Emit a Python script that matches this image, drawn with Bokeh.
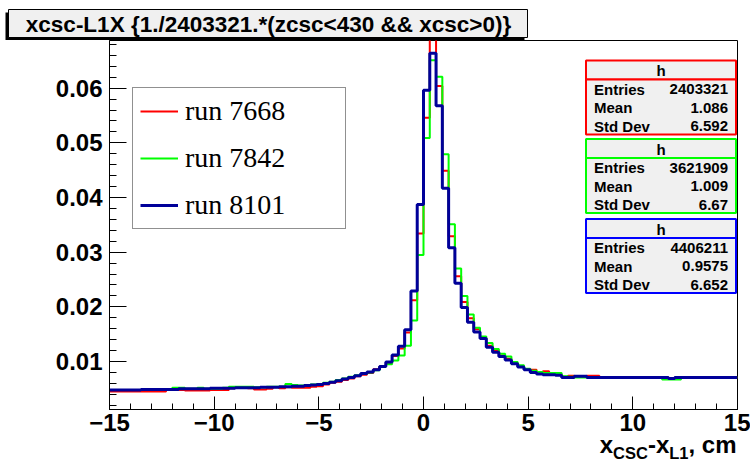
import numpy as np
from bokeh.plotting import figure
from bokeh.layouts import column
from bokeh.models import Range1d, FixedTicker, BoxAnnotation, Label, Legend, LegendItem
from bokeh.core.properties import value
from bokeh.embed import file_html
from bokeh.resources import INLINE

# ---------------- data ----------------
BIN_LOW, BIN_HIGH, N_BINS = -15.0, 15.0, 100

run_labels = ["run 7668", "run 7842", "run 8101"]

run7668 = [
    0.0045, 0.0045, 0.0045, 0.0045, 0.0045, 0.0045, 0.0045, 0.0045, 0.0045, 0.0048,
    0.0049, 0.0048, 0.0047, 0.0047, 0.0047, 0.0047, 0.0048, 0.0048, 0.0048, 0.0051,
    0.0052, 0.0052, 0.0051, 0.0049, 0.0049, 0.0050, 0.0053, 0.0051, 0.0053, 0.0052,
    0.0052, 0.0052, 0.0054, 0.0055, 0.0058, 0.0061, 0.0063, 0.0066, 0.0069, 0.0073,
    0.0076, 0.0079, 0.0086, 0.0091, 0.0097, 0.0110, 0.0124, 0.0153, 0.0212, 0.0334,
    0.0546, 0.0690, 0.0604, 0.0449, 0.0329, 0.0256, 0.0209, 0.0179, 0.0159, 0.0143,
    0.0129, 0.0120, 0.0111, 0.0105, 0.0097, 0.0091, 0.0086, 0.0085, 0.0080, 0.0082,
    0.0077, 0.0076, 0.0072, 0.0074, 0.0072, 0.0072, 0.0074, 0.0074, 0.0071, 0.0071,
    0.0071, 0.0071, 0.0071, 0.0071, 0.0071, 0.0071, 0.0071, 0.0071, 0.0071, 0.0070,
    0.0071, 0.0071, 0.0071, 0.0071, 0.0071, 0.0071, 0.0071, 0.0071, 0.0071, 0.0071,
]

run7842 = [
    0.0048, 0.0048, 0.0048, 0.0048, 0.0048, 0.0048, 0.0048, 0.0048, 0.0049, 0.0049,
    0.0052, 0.0052, 0.0050, 0.0050, 0.0052, 0.0050, 0.0050, 0.0050, 0.0052, 0.0054,
    0.0054, 0.0054, 0.0054, 0.0053, 0.0053, 0.0054, 0.0054, 0.0054, 0.0059, 0.0057,
    0.0056, 0.0057, 0.0058, 0.0059, 0.0061, 0.0063, 0.0066, 0.0069, 0.0072, 0.0075,
    0.0077, 0.0080, 0.0084, 0.0090, 0.0095, 0.0102, 0.0111, 0.0129, 0.0175, 0.0295,
    0.0509, 0.0651, 0.0621, 0.0479, 0.0351, 0.0270, 0.0220, 0.0186, 0.0162, 0.0146,
    0.0134, 0.0123, 0.0114, 0.0109, 0.0099, 0.0093, 0.0087, 0.0083, 0.0081, 0.0079,
    0.0079, 0.0079, 0.0073, 0.0072, 0.0071, 0.0071, 0.0071, 0.0071, 0.0071, 0.0071,
    0.0071, 0.0071, 0.0071, 0.0071, 0.0071, 0.0071, 0.0071, 0.0071, 0.0067, 0.0067,
    0.0067, 0.0071, 0.0071, 0.0071, 0.0071, 0.0071, 0.0071, 0.0071, 0.0071, 0.0071,
]

run8101 = [
    0.0048, 0.0048, 0.0048, 0.0048, 0.0048, 0.0049, 0.0049, 0.0049, 0.0049, 0.0049,
    0.0049, 0.0050, 0.0050, 0.0050, 0.0050, 0.0050, 0.0051, 0.0051, 0.0051, 0.0051,
    0.0052, 0.0052, 0.0052, 0.0052, 0.0053, 0.0053, 0.0053, 0.0054, 0.0054, 0.0055,
    0.0055, 0.0056, 0.0057, 0.0058, 0.0060, 0.0062, 0.0065, 0.0068, 0.0071, 0.0074,
    0.0078, 0.0081, 0.0085, 0.0091, 0.0099, 0.0112, 0.0128, 0.0158, 0.0229, 0.0387,
    0.0596, 0.0664, 0.0568, 0.0417, 0.0308, 0.0243, 0.0199, 0.0172, 0.0154, 0.0142,
    0.0126, 0.0117, 0.0109, 0.0103, 0.0096, 0.0090, 0.0085, 0.0080, 0.0077, 0.0076,
    0.0076, 0.0075, 0.0071, 0.0071, 0.0073, 0.0073, 0.0071, 0.0071, 0.0071, 0.0071,
    0.0071, 0.0071, 0.0071, 0.0071, 0.0071, 0.0071, 0.0071, 0.0071, 0.0071, 0.0069,
    0.0071, 0.0071, 0.0071, 0.0071, 0.0071, 0.0071, 0.0071, 0.0071, 0.0071, 0.0071,
]

stat_names = ["Entries", "Mean", "Std Dev"]
stats_7668 = ["2403321", "1.086", "6.592"]
stats_7842 = ["3621909", "1.009", "6.67"]
stats_8101 = ["4406211", "0.9575", "6.652"]

x_ticks = [-15, -10, -5, 0, 5, 10, 15]
x_tick_labels = ["\u221215", "\u221210", "\u22125", "0", "5", "10", "15"]
y_ticks = [0.01, 0.02, 0.03, 0.04, 0.05, 0.06, 0.07]
y_tick_labels = ["0.01", "0.02", "0.03", "0.04", "0.05", "0.06", "0.07"]

title_text = "xcsc-L1X {1./2403321.*(zcsc<430 && xcsc>0)}"
axis_title_main = ["x", "-x", ", cm"]
axis_title_sub = ["CSC", "L1"]

# ---------------- layout ----------------
W = 750
TOP_H = 40            # title strip
AX_W, AX_H = 170, 40  # x-axis title strip (bottom right, overlapping the tick-label row)
AX_LEFT, AX_OVERLAP = W - AX_W, 18
BL, BR, BB = 109, 13, 30
FRAME_H = 369
PH = FRAME_H + BB
XMIN, XMAX = -15.0, 15.0
YMIN, YMAX = 0.0012255, 0.06872

# main frame in page pixels
FL, FR, FT, FB = BL, W - BR, TOP_H, TOP_H + FRAME_H


def X(px):
    return XMIN + (px - FL) * (XMAX - XMIN) / (FR - FL)


def Y(py):
    return YMIN + (FB - py) * (YMAX - YMIN) / (FB - FT)


RED, GREEN, BLUE = "#ff0000", "#00ff00", "#000099"
BLUE_BOX = "#0000ff"
FONT = "Liberation Sans"
PANEL_FILL = "#f0f0f0"


def strip(w, h, x_start=0, transparent=False):
    f = figure(width=w, height=h, x_range=Range1d(x_start, x_start + w), y_range=Range1d(h, 0),
               output_backend="svg", toolbar_location=None, title=None,
               x_axis_location=None, y_axis_location=None,
               min_border_left=0, min_border_right=0, min_border_top=0, min_border_bottom=0)
    f.frame_align = False
    f.xgrid.visible = False
    f.ygrid.visible = False
    f.outline_line_color = None
    f.background_fill_color = "white"
    f.border_fill_color = "white"
    if transparent:
        f.background_fill_alpha = 0.0
        f.border_fill_alpha = 0.0
    return f


# ---- title strip ----
p0 = strip(W, TOP_H)
p0.quad(left=[5], right=[524], top=[12], bottom=[40], fill_color="black", line_color=None)
p0.quad(left=[8], right=[527], top=[9], bottom=[37], fill_color=PANEL_FILL,
        line_color="black", line_width=1)
p0.text(x=[268], y=[24], text=[title_text], text_font=value(FONT), text_font_style="bold",
        text_font_size="22.5px", text_align="center", text_baseline="middle", text_color="black")

# ---- main plot ----
p = figure(width=W, height=PH, x_range=Range1d(XMIN, XMAX), y_range=Range1d(YMIN, YMAX),
           output_backend="svg", toolbar_location=None, title=None,
           min_border_left=BL, min_border_right=BR, min_border_top=0, min_border_bottom=BB)
p.frame_align = False
p.xgrid.visible = False
p.ygrid.visible = False
p.outline_line_color = "black"
p.outline_line_width = 1
p.background_fill_color = "white"
p.border_fill_color = "white"

edges = np.linspace(BIN_LOW, BIN_HIGH, N_BINS + 1)


def steps(vals):
    return list(vals) + [vals[-1]]


r1 = p.step(x=edges, y=steps(run7668), mode="after", line_color=RED, line_width=2)
r2 = p.step(x=edges, y=steps(run7842), mode="after", line_color=GREEN, line_width=2)
r3 = p.step(x=edges, y=steps(run8101), mode="after", line_color=BLUE, line_width=3)

xa = p.xaxis[0]
xa.ticker = FixedTicker(ticks=x_ticks, minor_ticks=list(range(-15, 16)))
xa.major_label_overrides = {t: l for t, l in zip(x_ticks, x_tick_labels)}
ya = p.yaxis[0]
ya.ticker = FixedTicker(ticks=y_ticks, minor_ticks=[round(0.002 * k, 3) for k in range(1, 36)])
ya.major_label_overrides = {t: l for t, l in zip(y_ticks, y_tick_labels)}
for ax, tin, mtin in ((xa, 13, 6), (ya, 17, 7)):
    ax.major_tick_in = tin
    ax.major_tick_out = 0
    ax.minor_tick_in = mtin
    ax.minor_tick_out = 0
    ax.axis_line_color = "black"
    ax.major_tick_line_color = "black"
    ax.minor_tick_line_color = "black"
    ax.major_label_text_font = FONT
    ax.major_label_text_font_style = "bold"
    ax.major_label_text_font_size = "24px"
    ax.major_label_text_color = "black"
xa.major_label_standoff = 4
ya.major_label_standoff = 7

legend = Legend(items=[LegendItem(label=run_labels[0], renderers=[r1]),
                       LegendItem(label=run_labels[1], renderers=[r2]),
                       LegendItem(label=run_labels[2], renderers=[r3])],
                location=(132 - FL, FB - 229), padding=7, spacing=15, margin=0,
                glyph_width=38, glyph_height=32, label_height=32, label_width=153,
                label_standoff=7, label_text_font="Liberation Serif",
                label_text_font_size="28px", label_text_color="black",
                border_line_color="#222222", border_line_width=1,
                background_fill_color="white", background_fill_alpha=1.0)
p.add_layout(legend)


def box(l, r, t, b, fill, line, lw=1):
    p.add_layout(BoxAnnotation(left=X(l), right=X(r), top=Y(t), bottom=Y(b),
                               fill_color=fill, fill_alpha=1.0,
                               line_color=line, line_alpha=1.0, line_width=lw,
                               level="overlay"))


def text(px, py, s, size, align="left"):
    p.add_layout(Label(x=X(px), y=Y(py), text=s, text_font=FONT, text_font_size=size,
                       text_font_style="bold", text_align=align, text_baseline="middle",
                       text_color="black", level="overlay"))


for (top, bot, color, vals) in ((60, 134, RED, stats_7668),
                                (138.5, 212.5, GREEN, stats_7842),
                                (218.5, 292.5, BLUE_BOX, stats_8101)):
    left, right = 585.5, 735.5
    hdr = top + 19
    box(left, right, top, hdr, PANEL_FILL, color, 2)
    box(left, right, hdr, bot, PANEL_FILL, color, 2)
    text((left + right) / 2, top + 10, "h", "15px", align="center")
    for k, (nm, v) in enumerate(zip(stat_names, vals)):
        yy = top + 28.5 + 18.5 * k
        text(left + 8, yy, nm, "15px", align="left")
        text(right - 8, yy, v, "15px", align="right")

# ---- x-axis title strip:  x_CSC - x_L1, cm ----
p2 = strip(AX_W, AX_H, x_start=AX_LEFT, transparent=True)
p2.styles = {"margin-top": f"-{AX_OVERLAP}px", "margin-left": f"{AX_LEFT}px"}
y_main, y_sub = 22.7, 31.3     # vertical centres inside the strip
x0 = 599.3
p2.text(x=[x0, x0 + 48.1, x0 + 88.7], y=[y_main] * 3, text=axis_title_main,
        text_font=value(FONT), text_font_style="bold", text_font_size="24px",
        text_align="left", text_baseline="middle", text_color="black")
p2.text(x=[x0 + 13.3, x0 + 69.4], y=[y_sub] * 2, text=axis_title_sub,
        text_font=value(FONT), text_font_style="bold", text_font_size="16.5px",
        text_align="left", text_baseline="middle", text_color="black")

layout = column(p0, p, p2, spacing=0)
open("out.html", "w").write(file_html(layout, INLINE))
